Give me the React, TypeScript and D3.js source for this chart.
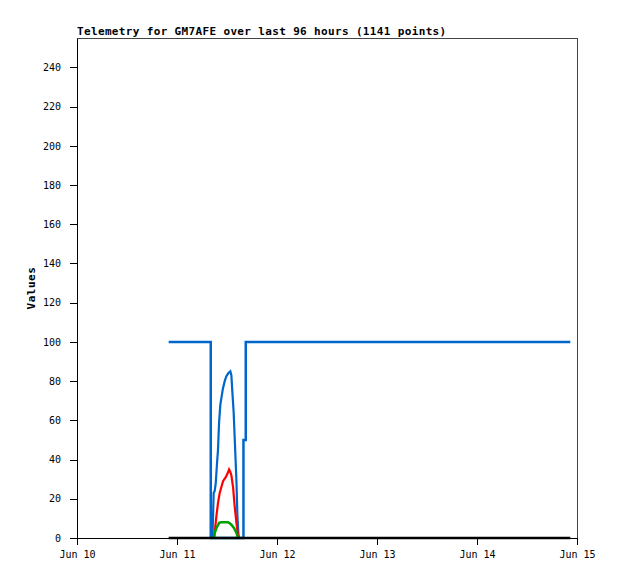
import { useEffect, useRef } from "react";
import * as d3 from "d3";

// hours after Jun 11 00:00 UTC, value
const startHour = -2.0;
const endHour = 94.4;

const blueHours = [startHour, 8.1, 8.1, 15.95, 15.95, 16.5, 16.5, endHour];
const blueValues = [100, 100, 0, 0, 50, 50, 100, 100];

const arcHours = [8.5, 8.64, 8.8, 9.05, 9.3, 9.6, 9.84, 10.1, 10.4, 10.7, 11.0, 11.45, 11.85, 12.3, 12.8, 13.05, 13.3, 13.6, 13.85, 14.0, 14.25, 14.5, 14.75, 14.9];
const arcValues = [0, 10, 23, 24, 28, 38, 45, 59, 68, 72, 76, 80, 82.5, 84, 85, 83, 74, 64, 51, 43, 30, 11, 2, 0];

const redHours = [8.9, 9.05, 9.45, 9.85, 10.25, 10.65, 11.05, 11.7, 12.15, 12.5, 12.75, 13.05, 13.45, 13.85, 14.25, 14.65, 14.8];
const redValues = [0, 3, 11, 18, 23, 26, 29, 31, 33, 35, 34, 32, 26, 16, 8, 1, 0];

const greenHours = [8.8, 9.05, 9.45, 10.1, 10.65, 11.45, 12.25, 12.65, 13.05, 13.7, 14.25, 14.65];
const greenValues = [0, 2.7, 5, 7.7, 8, 8, 8, 7.5, 6.8, 5, 2.7, 0];

const blackHours = [startHour, endHour];
const blackValues = [0, 0];

const yTicks = d3.range(0, 241, 20);
const title = "Telemetry for GM7AFE over last 96 hours (1141 points)";
const yLabel = "Values";

const base = Date.UTC(2024, 5, 11);
const toDate = (h: number) => new Date(base + h * 3600 * 1000);

export default function App() {
    const svgRef = useRef<SVGSVGElement | null>(null);

    useEffect(() => {
        const width = 618;
        const height = 579;
        const m = { left: 77, right: 577, top: 38, bottom: 538 };

        const svg = d3.select(svgRef.current!).attr("width", width).attr("height", height);
        svg.selectAll("*").remove();

        const x = d3.scaleUtc()
            .domain([new Date(Date.UTC(2024, 5, 10)), new Date(Date.UTC(2024, 5, 15))])
            .range([m.left, m.right]);
        const y = d3.scaleLinear().domain([0, 255]).range([m.bottom, m.top]);

        // frame
        svg.append("path")
            .attr("d", `M${m.left},${m.top}H${m.right}V${m.bottom}`)
            .attr("fill", "none")
            .attr("stroke", "#444")
            .attr("stroke-width", 1)
            .attr("shape-rendering", "crispEdges");

        const yAxis = svg.append("g")
            .attr("transform", `translate(${m.left},0)`)
            .call(d3.axisLeft(y).tickValues(yTicks).tickSize(7).tickPadding(9).tickSizeOuter(0));
        yAxis.select(".domain").attr("stroke", "#000");
        yAxis.selectAll("text")
            .attr("font-family", "'DejaVu Sans Mono', monospace")
            .attr("font-size", 10)
            .attr("fill", "#000");

        const xAxis = svg.append("g")
            .attr("transform", `translate(0,${m.bottom})`)
            .call(
                d3.axisBottom(x)
                    .ticks(d3.utcDay.every(1))
                    .tickFormat((d) => d3.utcFormat("%b %d")(d as Date))
                    .tickSize(7)
                    .tickPadding(6)
                    .tickSizeOuter(0)
            );
        xAxis.selectAll("text")
            .attr("font-family", "'DejaVu Sans Mono', monospace")
            .attr("font-size", 10)
            .attr("fill", "#000");
        svg.selectAll(".domain, .tick line").attr("shape-rendering", "crispEdges");

        const line = d3.line<[number, number]>()
            .x((d) => x(toDate(d[0])))
            .y((d) => y(d[1]));

        const series: [number[], number[], string, number][] = [
            [blueHours, blueValues, "#0066cc", 2.5],
            [arcHours, arcValues, "#0066cc", 2.2],
            [redHours, redValues, "#ff0000", 2.2],
            [greenHours, greenValues, "#00a000", 2.5],
            [blackHours, blackValues, "#000000", 2.5],
        ];

        const g = svg.append("g");
        series.forEach(([hs, vs, color, w]) => {
            g.append("path")
                .datum(hs.map((h, i) => [h, vs[i]] as [number, number]))
                .attr("fill", "none")
                .attr("stroke", color)
                .attr("stroke-width", w)
                .attr("stroke-linejoin", "miter")
                .attr("d", line);
        });

        svg.append("text")
            .attr("x", m.left)
            .attr("y", 35)
            .attr("font-family", "'DejaVu Sans Mono', monospace")
            .attr("font-weight", "bold")
            .attr("font-size", 11)
            .attr("letter-spacing", 0.35)
            .text(title);

        svg.append("text")
            .attr("transform", `translate(35,${(m.top + m.bottom) / 2}) rotate(-90)`)
            .attr("text-anchor", "middle")
            .attr("font-family", "'DejaVu Sans Mono', monospace")
            .attr("font-weight", "bold")
            .attr("font-size", 11)
            .attr("letter-spacing", 0.5)
            .text(yLabel);
    }, []);

    return (
        <div style={{ position: "absolute", left: 0, top: 0, background: "#fff" }}>
            <svg ref={svgRef} style={{ display: "block" }} />
        </div>
    );
}
